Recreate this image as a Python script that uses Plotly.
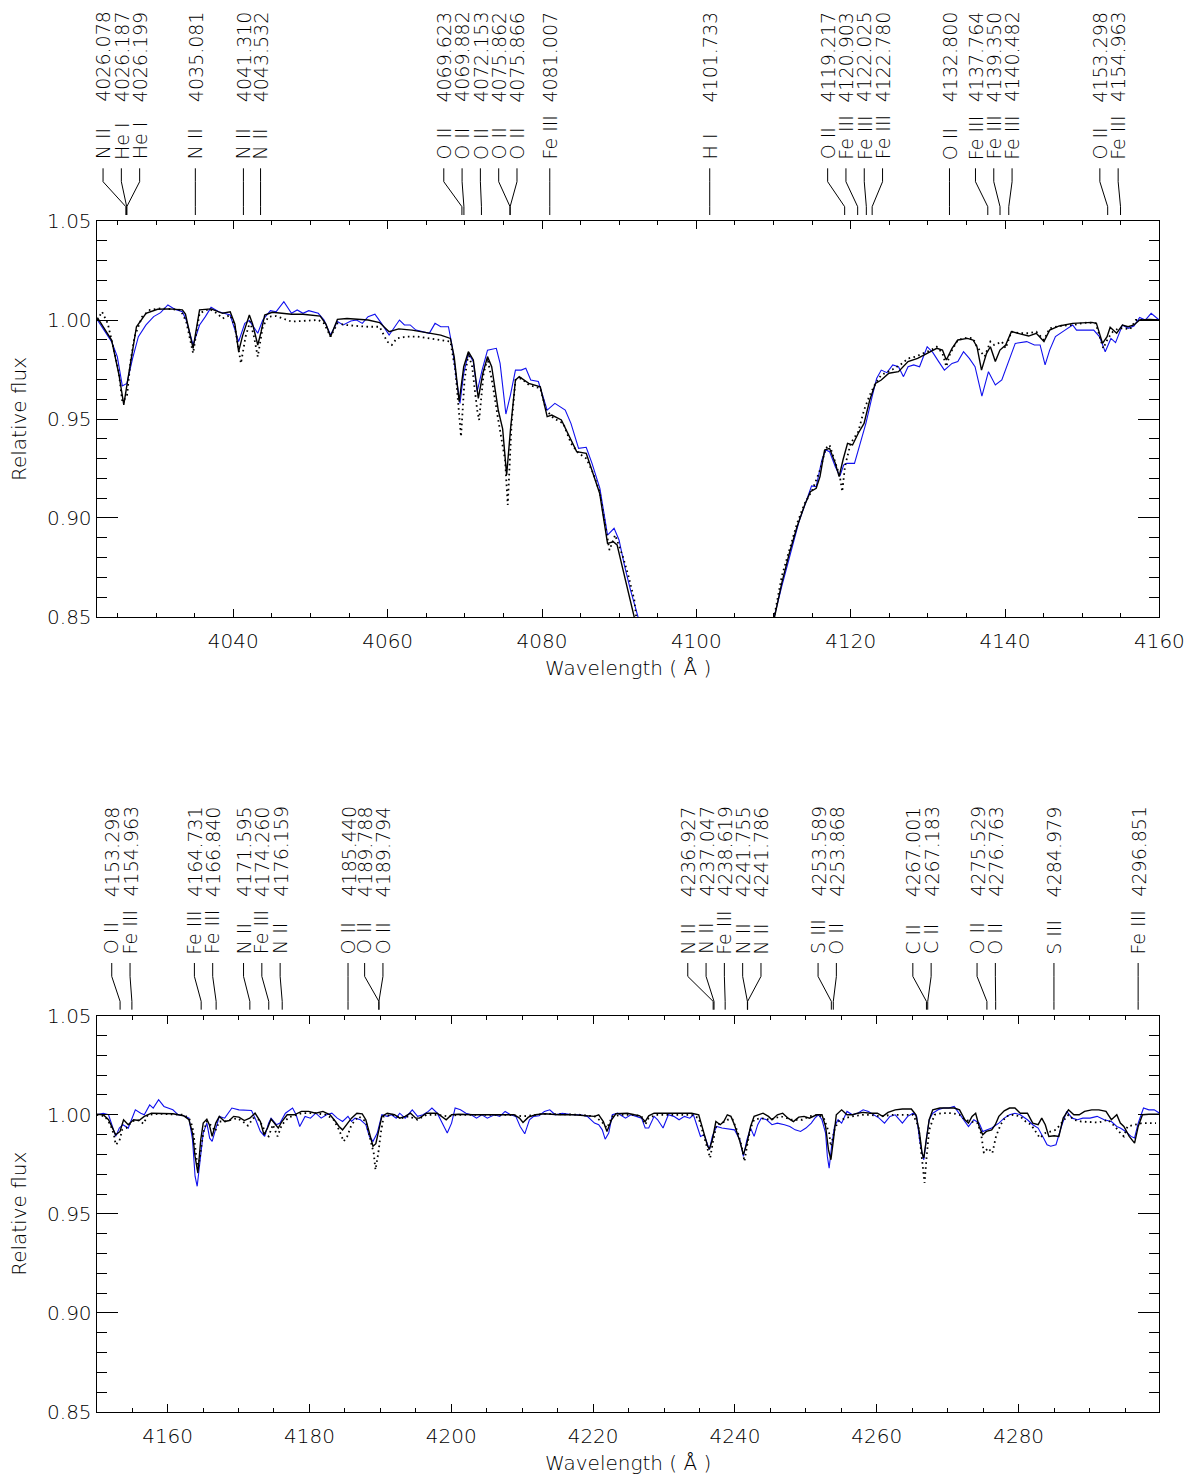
import plotly.graph_objects as go

# ---------------------------------------------------------------------------
# Panel 1 (4022-4160 A): observed spectrum and two model spectra
# ---------------------------------------------------------------------------
p1_obs_wave = [4022.39, 4023.23, 4024.23, 4024.97, 4025.62, 4026.21, 4026.95, 4027.70, 4028.69, 4029.68,
               4030.58, 4031.52, 4032.41, 4033.40, 4033.90, 4034.79, 4035.63, 4036.38, 4037.12, 4038.12,
               4038.86, 4039.60, 4040.69, 4041.49, 4042.08, 4043.17, 4043.82, 4044.81, 4045.56, 4046.55,
               4047.54, 4048.28, 4049.03, 4049.77, 4051.01, 4051.76, 4052.60, 4053.49, 4054.24, 4055.23,
               4055.97, 4056.72, 4057.46, 4058.35, 4059.20, 4060.19, 4060.93, 4061.53, 4062.17, 4062.92,
               4063.66, 4064.40, 4065.40, 4066.14, 4066.88, 4067.88, 4068.37, 4068.87, 4069.37, 4069.86,
               4070.46, 4071.10, 4071.60, 4072.24, 4072.94, 4074.08, 4074.57, 4075.32, 4075.91, 4076.56,
               4077.30, 4077.90, 4078.54, 4079.53, 4080.67, 4081.67, 4083.01, 4083.75, 4084.74, 4085.73,
               4086.48, 4087.50, 4088.49, 4089.34, 4089.98, 4090.72, 4091.47, 4092.46, 4094.50, 4101.70,
               4108.50, 4110.07, 4111.06, 4112.05, 4113.29, 4114.29, 4114.93, 4115.53, 4116.27, 4116.77,
               4117.26, 4118.01, 4118.60, 4119.10, 4119.49, 4120.49, 4121.23, 4121.97, 4122.72, 4123.36,
               4123.96, 4124.70, 4125.45, 4126.19, 4126.84, 4127.43, 4128.17, 4128.92, 4129.91, 4130.65,
               4131.40, 4132.14, 4133.13, 4133.88, 4134.62, 4135.37, 4136.11, 4137.00, 4137.85, 4138.74,
               4139.58, 4140.33, 4141.32, 4142.81, 4143.80, 4144.54, 4145.19, 4145.78, 4146.53, 4147.77,
               4148.76, 4149.26, 4150.25, 4151.49, 4152.23, 4152.98, 4153.72, 4154.32, 4155.21, 4155.95,
               4156.70, 4157.44, 4158.18, 4158.93, 4159.97]
p1_obs_flux = [1.0000, 0.9949, 0.9891, 0.9815, 0.9667, 0.9680, 0.9806, 0.9916, 0.9975, 1.0017,
               1.0037, 1.0076, 1.0054, 1.0042, 1.0000, 0.9874, 0.9975, 1.0017, 1.0064, 1.0042,
               1.0034, 1.0025, 0.9891, 0.9983, 0.9997, 0.9933, 1.0000, 1.0047, 1.0042, 1.0093,
               1.0034, 1.0051, 1.0034, 1.0047, 1.0034, 1.0000, 0.9924, 0.9992, 0.9975, 0.9995,
               1.0000, 0.9983, 1.0017, 1.0029, 0.9983, 0.9924, 0.9966, 1.0000, 0.9975, 0.9975,
               0.9949, 0.9941, 0.9933, 0.9983, 0.9966, 0.9966, 0.9865, 0.9714, 0.9579, 0.9731,
               0.9832, 0.9790, 0.9638, 0.9747, 0.9848, 0.9857, 0.9781, 0.9525, 0.9621, 0.9747,
               0.9747, 0.9756, 0.9697, 0.9689, 0.9545, 0.9579, 0.9545, 0.9478, 0.9352, 0.9357,
               0.9276, 0.9150, 0.8914, 0.8948, 0.8889, 0.8754, 0.8636, 0.8498, 0.8150, 0.7000,
               0.8200, 0.8498, 0.8653, 0.8805, 0.8981, 0.9091, 0.9162, 0.9158, 0.9293, 0.9343,
               0.9335, 0.9259, 0.9212, 0.9268, 0.9276, 0.9276, 0.9377, 0.9478, 0.9604, 0.9705,
               0.9747, 0.9734, 0.9773, 0.9764, 0.9714, 0.9764, 0.9773, 0.9764, 0.9865, 0.9835,
               0.9790, 0.9747, 0.9781, 0.9790, 0.9840, 0.9806, 0.9764, 0.9616, 0.9739, 0.9672,
               0.9697, 0.9781, 0.9882, 0.9891, 0.9874, 0.9874, 0.9773, 0.9848, 0.9916, 0.9949,
               0.9975, 0.9949, 0.9949, 0.9949, 0.9916, 0.9840, 0.9907, 0.9886, 0.9975, 0.9958,
               0.9970, 1.0013, 1.0000, 1.0034, 1.0000]

p1_mod1_wave = [4022.39, 4024.23, 4025.20, 4025.81, 4026.21, 4026.71, 4027.45, 4028.69, 4030.18, 4031.67,
                4033.40, 4033.80, 4034.79, 4035.63, 4037.12, 4038.61, 4039.60, 4040.20, 4040.69, 4041.20,
                4042.08, 4042.50, 4043.17, 4043.60, 4044.07, 4045.06, 4047.54, 4049.03, 4051.26, 4052.00,
                4052.60, 4053.49, 4054.73, 4057.46, 4058.95, 4060.19, 4061.43, 4063.16, 4064.90, 4066.88,
                4068.13, 4068.62, 4069.27, 4069.86, 4070.46, 4071.10, 4071.75, 4072.34, 4072.94, 4073.48,
                4074.33, 4074.90, 4075.42, 4075.91, 4076.56, 4077.05, 4078.29, 4079.78, 4080.67, 4081.27,
                4082.51, 4083.50, 4084.49, 4085.73, 4086.48, 4087.47, 4088.49, 4089.24, 4089.73, 4090.48,
                4091.22, 4091.96, 4094.00, 4101.70, 4108.50, 4110.07, 4111.06, 4112.05, 4113.05, 4114.04,
                4114.78, 4115.53, 4116.02, 4116.62, 4117.26, 4118.01, 4118.50, 4119.00, 4119.59, 4120.24,
                4120.98, 4121.73, 4122.47, 4123.21, 4123.96, 4124.95, 4126.19, 4127.43, 4128.67, 4129.91,
                4131.15, 4131.89, 4132.39, 4133.13, 4133.88, 4135.12, 4135.86, 4136.36, 4136.95, 4137.60,
                4138.10, 4138.74, 4139.34, 4140.08, 4140.82, 4142.06, 4143.06, 4144.05, 4145.04, 4145.78,
                4147.02, 4148.76, 4151.24, 4151.84, 4152.63, 4153.22, 4153.62, 4154.46, 4155.21, 4155.95,
                4156.70, 4157.44, 4158.68, 4159.97]
p1_mod1_flux = [1.0012, 0.9899, 0.9720, 0.9571, 0.9670, 0.9781, 0.9966, 1.0034, 1.0054, 1.0056,
                1.0051, 1.0030, 0.9857, 1.0051, 1.0056, 1.0034, 1.0042, 0.9980, 0.9840, 0.9920,
                1.0025, 0.9980, 0.9874, 0.9940, 1.0025, 1.0039, 1.0029, 1.0029, 1.0020, 0.9980,
                0.9916, 1.0003, 1.0008, 1.0000, 0.9987, 0.9941, 0.9955, 0.9949, 0.9936, 0.9924,
                0.9907, 0.9815, 0.9588, 0.9764, 0.9840, 0.9798, 0.9604, 0.9731, 0.9815, 0.9764,
                0.9545, 0.9450, 0.9217, 0.9444, 0.9697, 0.9714, 0.9680, 0.9663, 0.9512, 0.9520,
                0.9495, 0.9411, 0.9335, 0.9327, 0.9242, 0.9125, 0.8872, 0.8880, 0.8864, 0.8737,
                0.8620, 0.8498, 0.8100, 0.7000, 0.8200, 0.8498, 0.8670, 0.8822, 0.8956, 0.9066,
                0.9133, 0.9150, 0.9209, 0.9343, 0.9352, 0.9276, 0.9209, 0.9293, 0.9377, 0.9369,
                0.9428, 0.9478, 0.9596, 0.9680, 0.9697, 0.9731, 0.9739, 0.9790, 0.9806, 0.9832,
                0.9857, 0.9848, 0.9798, 0.9857, 0.9899, 0.9907, 0.9899, 0.9865, 0.9747, 0.9832,
                0.9865, 0.9790, 0.9848, 0.9874, 0.9941, 0.9929, 0.9919, 0.9933, 0.9891, 0.9949,
                0.9970, 0.9983, 0.9988, 0.9983, 0.9882, 0.9916, 0.9963, 0.9933, 0.9975, 0.9966,
                0.9975, 1.0000, 1.0003, 1.0000]

p1_mod2_wave = [4022.39, 4022.99, 4023.73, 4024.47, 4025.12, 4025.62, 4026.21, 4026.71, 4027.20, 4028.19,
                4029.19, 4030.67, 4032.16, 4033.15, 4033.90, 4034.79, 4035.63, 4036.87, 4037.87, 4038.61,
                4039.60, 4040.20, 4040.99, 4041.59, 4042.18, 4042.68, 4043.17, 4043.82, 4044.56, 4045.56,
                4047.54, 4049.52, 4051.01, 4051.76, 4052.60, 4053.49, 4054.48, 4055.97, 4057.46, 4058.95,
                4059.94, 4060.54, 4061.18, 4062.42, 4063.91, 4065.40, 4066.88, 4068.13, 4068.77, 4069.37,
                4069.51, 4069.96, 4070.46, 4070.95, 4071.60, 4071.85, 4072.44, 4072.94, 4073.58, 4074.33,
                4075.22, 4075.56, 4076.06, 4076.56, 4077.30, 4078.29, 4079.78, 4080.53, 4081.52, 4082.76,
                4083.75, 4084.74, 4085.73, 4086.63, 4087.47, 4088.74, 4089.48, 4090.48, 4091.22, 4091.96,
                4092.21, 4094.30, 4101.70, 4108.30, 4110.07, 4111.06, 4112.05, 4113.05, 4114.04, 4115.03,
                4116.02, 4116.77, 4117.26, 4118.01, 4118.60, 4118.90, 4119.25, 4119.99, 4120.98, 4121.73,
                4122.47, 4123.21, 4123.96, 4125.45, 4126.69, 4127.43, 4128.42, 4129.41, 4130.41, 4131.15,
                4131.89, 4132.39, 4132.89, 4133.88, 4135.12, 4135.86, 4136.36, 4136.86, 4137.35, 4138.10,
                4138.59, 4139.09, 4139.58, 4140.08, 4140.82, 4142.06, 4143.06, 4144.05, 4145.04, 4145.78,
                4147.02, 4148.76, 4150.74, 4151.74, 4152.73, 4153.32, 4153.97, 4154.71, 4155.46, 4156.20,
                4156.94, 4158.18, 4159.97]
p1_mod2_flux = [1.0000, 1.0042, 0.9983, 0.9865, 0.9747, 0.9588, 0.9613, 0.9798, 0.9916, 1.0017,
                1.0051, 1.0059, 1.0054, 1.0051, 0.9992, 0.9832, 1.0034, 1.0056, 1.0034, 1.0008,
                1.0025, 0.9966, 0.9781, 0.9916, 0.9992, 0.9916, 0.9815, 0.9966, 1.0017, 1.0020,
                0.9992, 0.9997, 1.0000, 0.9983, 0.9916, 0.9983, 0.9975, 0.9970, 0.9966, 0.9966,
                0.9891, 0.9874, 0.9907, 0.9916, 0.9916, 0.9907, 0.9899, 0.9891, 0.9747, 0.9461,
                0.9411, 0.9697, 0.9832, 0.9764, 0.9545, 0.9495, 0.9731, 0.9806, 0.9680, 0.9495,
                0.9293, 0.9066, 0.9478, 0.9697, 0.9705, 0.9672, 0.9655, 0.9545, 0.9503, 0.9478,
                0.9377, 0.9327, 0.9301, 0.9226, 0.9133, 0.8838, 0.8914, 0.8805, 0.8704, 0.8586,
                0.8498, 0.8100, 0.7000, 0.8200, 0.8498, 0.8704, 0.8838, 0.8973, 0.9074, 0.9141,
                0.9242, 0.9352, 0.9369, 0.9276, 0.9209, 0.9133, 0.9259, 0.9377, 0.9436, 0.9545,
                0.9621, 0.9680, 0.9722, 0.9751, 0.9781, 0.9806, 0.9815, 0.9832, 0.9848, 0.9865,
                0.9832, 0.9764, 0.9832, 0.9899, 0.9911, 0.9907, 0.9865, 0.9840, 0.9815, 0.9891,
                0.9874, 0.9882, 0.9891, 0.9857, 0.9941, 0.9933, 0.9933, 0.9941, 0.9899, 0.9958,
                0.9970, 0.9975, 0.9988, 0.9983, 0.9857, 0.9907, 0.9941, 0.9958, 0.9958, 0.9953,
                1.0000, 1.0000, 1.0000]

# ---------------------------------------------------------------------------
# Panel 2 (4150-4300 A)
# ---------------------------------------------------------------------------
p2_obs_wave = [4150.01, 4150.92, 4151.67, 4152.28, 4152.68, 4153.19, 4153.69, 4154.45, 4155.45, 4156.21,
               4156.71, 4157.47, 4157.97, 4158.73, 4159.48, 4160.74, 4161.49, 4162.25, 4163.01, 4163.51,
               4163.87, 4164.17, 4164.52, 4165.02, 4165.53, 4165.93, 4166.28, 4166.79, 4167.29, 4168.05,
               4169.06, 4170.06, 4171.07, 4171.83, 4172.43, 4173.08, 4173.69, 4174.24, 4174.59, 4175.35,
               4175.85, 4176.61, 4177.62, 4178.12, 4178.63, 4179.38, 4180.14, 4180.89, 4181.65, 4182.41,
               4183.16, 4183.92, 4184.67, 4185.43, 4185.93, 4186.43, 4187.19, 4187.95, 4188.45, 4188.96,
               4189.56, 4190.21, 4190.97, 4191.57, 4192.23, 4192.73, 4193.49, 4194.50, 4195.25, 4196.01,
               4196.76, 4197.27, 4198.02, 4198.78, 4199.43, 4200.04, 4200.54, 4201.30, 4202.06, 4202.81,
               4203.56, 4204.32, 4205.08, 4206.08, 4206.84, 4207.59, 4208.35, 4209.10, 4209.71, 4210.36,
               4211.02, 4211.62, 4212.38, 4213.13, 4213.89, 4214.65, 4215.65, 4217.16, 4218.17, 4219.18,
               4220.19, 4220.79, 4221.29, 4221.70, 4222.20, 4222.71, 4223.46, 4224.57, 4225.32, 4226.08,
               4226.83, 4227.34, 4227.84, 4228.60, 4229.10, 4229.86, 4230.61, 4231.37, 4232.12, 4232.88,
               4233.63, 4234.14, 4234.64, 4235.14, 4235.65, 4236.15, 4236.40, 4236.81, 4237.41, 4238.17,
               4238.92, 4239.93, 4240.69, 4241.19, 4241.69, 4242.20, 4242.70, 4243.21, 4243.71, 4244.47,
               4245.22, 4245.98, 4246.98, 4247.74, 4248.49, 4249.25, 4250.01, 4250.76, 4251.27, 4251.77,
               4252.27, 4252.78, 4253.03, 4253.28, 4253.63, 4254.04, 4254.54, 4255.04, 4255.80, 4256.56,
               4257.31, 4258.07, 4258.82, 4259.58, 4260.33, 4261.09, 4261.85, 4262.60, 4263.61, 4264.36,
               4265.12, 4265.62, 4266.03, 4266.38, 4266.63, 4266.98, 4267.39, 4267.89, 4268.65, 4269.40,
               4270.16, 4270.91, 4271.42, 4272.17, 4272.93, 4273.68, 4274.44, 4274.94, 4275.45, 4276.20,
               4277.21, 4277.97, 4278.72, 4279.48, 4280.23, 4281.24, 4281.99, 4282.75, 4283.51, 4284.01,
               4284.52, 4285.27, 4286.03, 4286.78, 4287.54, 4288.29, 4289.05, 4290.06, 4291.06, 4292.07,
               4293.08, 4293.84, 4294.34, 4295.10, 4295.85, 4296.35, 4296.86, 4297.61, 4298.37, 4299.12,
               4299.88]
p2_obs_flux = [1.0000, 1.0008, 1.0000, 0.9933, 0.9891, 0.9933, 0.9950, 0.9933, 1.0025, 1.0008,
               1.0000, 1.0050, 1.0034, 1.0076, 1.0042, 1.0025, 1.0000, 0.9995, 0.9983, 0.9874,
               0.9690, 0.9639, 0.9740, 0.9908, 0.9958, 0.9882, 0.9866, 0.9933, 0.9992, 0.9983,
               1.0034, 1.0025, 1.0025, 1.0022, 0.9975, 0.9916, 0.9891, 0.9958, 0.9983, 0.9950,
               0.9958, 1.0008, 1.0034, 1.0000, 0.9941, 0.9992, 0.9983, 1.0008, 0.9983, 1.0000,
               1.0008, 0.9983, 0.9966, 0.9992, 0.9966, 0.9983, 0.9975, 0.9950, 0.9891, 0.9866,
               0.9908, 1.0000, 0.9992, 1.0000, 0.9983, 1.0008, 0.9983, 1.0025, 0.9992, 1.0000,
               1.0017, 1.0034, 1.0008, 0.9958, 0.9908, 0.9958, 1.0034, 1.0025, 1.0008, 1.0000,
               0.9983, 1.0000, 0.9983, 1.0000, 0.9992, 1.0017, 1.0000, 0.9992, 0.9941, 0.9904,
               0.9975, 0.9992, 0.9995, 1.0017, 1.0025, 1.0000, 1.0008, 1.0000, 1.0000, 0.9992,
               0.9958, 0.9950, 0.9924, 0.9877, 0.9908, 1.0000, 1.0008, 0.9983, 1.0000, 0.9992,
               0.9983, 0.9933, 0.9933, 0.9992, 0.9975, 0.9933, 1.0000, 0.9992, 0.9975, 0.9992,
               0.9983, 1.0000, 0.9941, 0.9891, 0.9899, 0.9841, 0.9824, 0.9891, 0.9941, 0.9933,
               0.9928, 0.9924, 0.9874, 0.9790, 0.9874, 0.9933, 0.9891, 0.9950, 0.9983, 0.9975,
               0.9950, 0.9958, 0.9950, 0.9941, 0.9924, 0.9916, 0.9933, 0.9958, 0.9983, 1.0000,
               0.9975, 0.9908, 0.9790, 0.9731, 0.9841, 0.9941, 0.9975, 0.9958, 1.0017, 1.0000,
               1.0008, 1.0025, 1.0017, 1.0000, 0.9983, 0.9958, 0.9992, 1.0000, 0.9958, 0.9992,
               1.0008, 0.9992, 0.9874, 0.9807, 0.9773, 0.9874, 0.9975, 1.0008, 1.0025, 1.0034,
               1.0034, 1.0042, 1.0017, 0.9975, 0.9941, 0.9975, 0.9958, 0.9916, 0.9924, 0.9933,
               0.9958, 0.9983, 1.0000, 1.0008, 1.0000, 0.9975, 0.9950, 0.9933, 0.9883, 0.9849,
               0.9841, 0.9849, 0.9941, 1.0017, 0.9983, 0.9975, 0.9983, 0.9983, 0.9992, 0.9975,
               0.9966, 0.9941, 0.9933, 0.9916, 0.9891, 0.9883, 0.9958, 1.0034, 1.0025, 1.0025,
               1.0008]

p2_mod1_wave = [4150.01, 4150.92, 4151.67, 4152.68, 4153.29, 4153.79, 4154.45, 4155.20, 4155.96, 4156.71,
                4157.72, 4159.23, 4160.74, 4162.25, 4163.01, 4163.51, 4163.87, 4164.27, 4164.67, 4165.02,
                4165.53, 4165.88, 4166.28, 4166.79, 4167.29, 4168.05, 4168.70, 4169.31, 4170.06, 4170.82,
                4171.58, 4172.33, 4173.08, 4173.59, 4174.09, 4174.59, 4175.09, 4175.60, 4176.11, 4176.86,
                4177.87, 4178.88, 4179.88, 4180.89, 4181.90, 4182.91, 4183.67, 4184.17, 4184.67, 4185.18,
                4185.93, 4186.69, 4187.44, 4187.95, 4188.45, 4188.96, 4189.36, 4189.71, 4190.21, 4190.97,
                4191.98, 4192.73, 4193.49, 4194.24, 4195.00, 4195.51, 4196.51, 4198.02, 4199.28, 4200.04,
                4201.05, 4203.06, 4205.08, 4207.09, 4208.85, 4209.61, 4210.11, 4210.87, 4211.87, 4213.13,
                4215.15, 4217.16, 4219.18, 4220.19, 4220.79, 4221.44, 4221.95, 4222.60, 4223.21, 4224.82,
                4225.83, 4226.58, 4227.34, 4227.84, 4228.60, 4230.36, 4232.37, 4233.89, 4234.89, 4235.65,
                4236.15, 4236.40, 4236.81, 4237.31, 4237.92, 4238.42, 4238.92, 4239.43, 4239.93, 4240.69,
                4241.19, 4241.69, 4242.20, 4242.70, 4243.46, 4243.96, 4244.72, 4245.22, 4245.98, 4246.73,
                4247.49, 4248.24, 4249.00, 4249.75, 4250.51, 4251.52, 4252.27, 4252.78, 4253.18, 4253.53,
                4253.89, 4254.29, 4255.04, 4255.80, 4256.56, 4257.31, 4258.07, 4259.08, 4260.08, 4260.84,
                4261.59, 4262.60, 4263.61, 4264.87, 4265.52, 4266.03, 4266.38, 4266.63, 4266.98, 4267.39,
                4267.89, 4268.90, 4269.91, 4270.91, 4271.67, 4272.42, 4272.93, 4273.43, 4273.94, 4274.44,
                4274.94, 4275.45, 4276.20, 4276.71, 4277.21, 4277.97, 4278.72, 4279.48, 4280.23, 4281.24,
                4281.99, 4282.75, 4283.26, 4283.76, 4284.26, 4285.02, 4285.67, 4286.28, 4287.03, 4287.79,
                4288.54, 4289.30, 4290.31, 4291.32, 4292.32, 4293.08, 4293.84, 4294.34, 4294.84, 4295.60,
                4296.35, 4296.86, 4297.46, 4298.37, 4299.88]
p2_mod1_flux = [1.0003, 1.0000, 0.9975, 0.9899, 0.9916, 0.9975, 0.9950, 0.9975, 0.9971, 0.9992,
                1.0008, 1.0008, 1.0005, 0.9995, 0.9975, 0.9908, 0.9790, 0.9706, 0.9874, 0.9958,
                0.9978, 0.9950, 0.9891, 0.9958, 0.9992, 0.9966, 0.9971, 0.9992, 0.9988, 0.9971,
                0.9983, 1.0008, 0.9966, 0.9899, 0.9933, 0.9978, 0.9958, 0.9933, 0.9966, 1.0000,
                1.0000, 1.0017, 1.0017, 1.0008, 1.0017, 1.0000, 0.9966, 0.9941, 0.9924, 0.9950,
                0.9983, 1.0008, 1.0005, 0.9975, 0.9908, 0.9841, 0.9854, 0.9908, 0.9992, 1.0008,
                1.0000, 0.9983, 0.9992, 1.0008, 0.9983, 0.9983, 1.0008, 1.0008, 0.9975, 1.0000,
                1.0003, 1.0000, 1.0000, 1.0003, 1.0000, 0.9983, 0.9961, 0.9988, 1.0000, 1.0005,
                1.0000, 1.0000, 0.9995, 0.9992, 1.0000, 0.9966, 0.9916, 0.9975, 1.0005, 1.0008,
                1.0000, 0.9995, 0.9966, 0.9995, 1.0008, 1.0008, 1.0008, 1.0008, 1.0000, 0.9908,
                0.9841, 0.9827, 0.9874, 0.9966, 0.9950, 0.9966, 1.0000, 0.9992, 0.9950, 0.9866,
                0.9799, 0.9857, 0.9941, 0.9992, 1.0000, 1.0008, 0.9992, 0.9975, 1.0000, 1.0008,
                0.9983, 0.9966, 0.9988, 0.9992, 0.9983, 1.0000, 1.0000, 0.9941, 0.9824, 0.9773,
                0.9874, 1.0000, 1.0025, 1.0000, 1.0000, 1.0008, 1.0012, 1.0008, 1.0008, 0.9992,
                1.0012, 1.0025, 1.0029, 1.0029, 1.0000, 0.9908, 0.9807, 0.9782, 0.9874, 0.9975,
                1.0025, 1.0034, 1.0034, 1.0034, 1.0025, 0.9975, 0.9958, 0.9992, 1.0008, 0.9941,
                0.9899, 0.9916, 0.9924, 0.9950, 0.9992, 1.0020, 1.0034, 1.0034, 1.0008, 1.0008,
                0.9958, 0.9950, 0.9983, 0.9950, 0.9891, 0.9894, 0.9891, 0.9983, 1.0025, 1.0000,
                1.0000, 1.0017, 1.0025, 1.0025, 1.0017, 0.9975, 1.0000, 0.9958, 0.9941, 0.9891,
                0.9857, 0.9941, 1.0000, 1.0003, 1.0003]

p2_mod2_wave = [4150.01, 4151.17, 4151.93, 4152.43, 4152.68, 4153.19, 4153.59, 4154.19, 4154.95, 4155.70,
                4156.61, 4157.21, 4158.73, 4160.74, 4162.25, 4163.01, 4163.51, 4163.87, 4164.27, 4164.57,
                4165.02, 4165.53, 4166.28, 4166.69, 4167.29, 4168.05, 4168.81, 4169.82, 4170.92, 4171.32,
                4172.08, 4172.83, 4173.44, 4173.84, 4174.24, 4174.84, 4175.50, 4176.11, 4177.11, 4178.88,
                4180.89, 4182.41, 4183.41, 4184.17, 4184.82, 4185.33, 4185.93, 4186.94, 4187.95, 4188.55,
                4189.06, 4189.31, 4189.71, 4190.06, 4190.47, 4191.72, 4192.98, 4193.99, 4195.25, 4196.51,
                4198.02, 4199.53, 4201.05, 4203.06, 4208.10, 4210.11, 4213.13, 4218.17, 4220.19, 4221.19,
                4221.95, 4222.71, 4224.21, 4225.83, 4226.83, 4227.34, 4227.84, 4228.85, 4231.37, 4233.89,
                4234.89, 4235.65, 4236.15, 4236.50, 4236.91, 4237.41, 4238.17, 4238.92, 4239.68, 4240.43,
                4240.94, 4241.34, 4241.69, 4242.20, 4242.70, 4243.71, 4244.97, 4246.48, 4247.99, 4249.50,
                4250.51, 4251.77, 4252.53, 4253.03, 4253.28, 4253.53, 4254.04, 4254.54, 4255.55, 4256.56,
                4258.07, 4259.08, 4260.59, 4262.10, 4263.61, 4265.12, 4265.88, 4266.23, 4266.53, 4266.73,
                4267.03, 4267.39, 4268.14, 4269.15, 4270.66, 4271.67, 4272.42, 4273.18, 4274.19, 4274.69,
                4275.10, 4275.70, 4276.30, 4276.81, 4277.46, 4278.22, 4279.23, 4280.23, 4280.99, 4281.74,
                4282.50, 4283.00, 4283.76, 4284.52, 4285.27, 4286.03, 4287.03, 4287.79, 4288.80, 4290.31,
                4291.32, 4292.58, 4293.58, 4294.34, 4294.84, 4295.35, 4296.35, 4297.36, 4298.37, 4299.37]
p2_mod2_flux = [1.0000, 0.9992, 0.9950, 0.9899, 0.9849, 0.9866, 0.9924, 0.9933, 0.9966, 0.9975,
                0.9955, 1.0000, 1.0005, 1.0000, 1.0000, 0.9983, 0.9941, 0.9841, 0.9723, 0.9790,
                0.9908, 0.9966, 0.9941, 0.9916, 0.9966, 0.9966, 0.9975, 0.9983, 0.9958, 0.9945,
                0.9983, 0.9975, 0.9941, 0.9899, 0.9891, 0.9950, 0.9891, 0.9950, 0.9988, 1.0008,
                1.0008, 1.0000, 0.9975, 0.9924, 0.9866, 0.9891, 0.9950, 0.9992, 0.9966, 0.9874,
                0.9807, 0.9723, 0.9807, 0.9908, 0.9992, 1.0000, 0.9983, 0.9992, 0.9975, 1.0000,
                1.0000, 0.9992, 1.0000, 1.0000, 1.0000, 0.9992, 1.0005, 1.0000, 0.9992, 0.9966,
                0.9933, 0.9992, 1.0000, 1.0000, 0.9992, 0.9950, 0.9983, 1.0000, 1.0000, 1.0000,
                0.9983, 0.9891, 0.9824, 0.9782, 0.9866, 0.9950, 0.9958, 0.9975, 0.9975, 0.9908,
                0.9841, 0.9765, 0.9841, 0.9933, 0.9975, 0.9983, 0.9975, 0.9992, 0.9975, 0.9975,
                0.9992, 1.0000, 0.9983, 0.9933, 0.9908, 0.9841, 0.9924, 0.9966, 0.9983, 0.9992,
                1.0000, 1.0000, 0.9992, 1.0000, 1.0000, 1.0000, 0.9941, 0.9824, 0.9740, 0.9656,
                0.9790, 0.9924, 1.0000, 1.0008, 1.0008, 1.0000, 0.9975, 0.9966, 0.9958, 0.9908,
                0.9807, 0.9832, 0.9807, 0.9891, 0.9950, 0.9992, 1.0000, 0.9992, 0.9966, 0.9950,
                0.9908, 0.9883, 0.9908, 0.9916, 0.9924, 0.9958, 1.0000, 0.9975, 0.9966, 0.9963,
                0.9961, 0.9975, 0.9941, 0.9908, 0.9891, 0.9941, 0.9950, 0.9958, 0.9958, 0.9958]

# ---------------------------------------------------------------------------
# Line identifications
# ---------------------------------------------------------------------------
p1_line_ions = ["N II", "He I", "He I", "N II", "N II", "N II", "O II", "O II", "O II", "O II", "O II",
                "Fe III", "H I", "O II", "Fe III", "Fe III", "Fe III", "O II", "Fe III", "Fe III",
                "Fe III", "O II", "Fe III"]
p1_line_waves = [4026.078, 4026.187, 4026.199, 4035.081, 4041.310, 4043.532, 4069.623, 4069.882,
                 4072.153, 4075.862, 4075.866, 4081.007, 4101.733, 4119.217, 4120.903, 4122.025,
                 4122.780, 4132.800, 4137.764, 4139.350, 4140.482, 4153.298, 4154.963]

p2_line_ions = ["O II", "Fe III", "Fe III", "Fe III", "N II", "Fe III", "N II", "O II", "O II", "O II",
                "N II", "N II", "Fe III", "N II", "N II", "S III", "O II", "C II", "C II", "O II", "O II",
                "S III", "Fe III"]
p2_line_waves = [4153.298, 4154.963, 4164.731, 4166.840, 4171.595, 4174.260, 4176.159, 4185.440,
                 4189.788, 4189.794, 4236.927, 4237.047, 4238.619, 4241.755, 4241.786, 4253.589,
                 4253.868, 4267.001, 4267.183, 4275.529, 4276.763, 4284.979, 4296.851]

p1_xrange = [4022.3, 4160.0001]
p2_xrange = [4150.0, 4299.85]
y_range = [0.84999, 1.05001]

# ---------------------------------------------------------------------------
# Page geometry (pixels)
# ---------------------------------------------------------------------------
W, H = 1191, 1478
PX_LEFT, PX_RIGHT = 96.7, 1159.4
PANELS = [  # (top, bottom) of each plot box
    (221.0, 617.0),
    (1015.7, 1412.0),
]
FONT = "DejaVu Sans"
LABEL_SEP = 18.3      # spacing of crowded identification labels (px)
LABEL_MERGE = 16.8    # labels closer than this are spread apart (px)
LABEL_SHIFT = 5.1     # crowded groups sit slightly left of their centre (px)


def paper_y(py):
    return 1.0 - py / H


def spread_labels(waves, xr):
    """Spread identification labels so that neighbouring columns do not overlap."""
    scale = (PX_RIGHT - PX_LEFT) / (xr[1] - xr[0])
    order = sorted(range(len(waves)), key=lambda i: waves[i])
    pix = [(waves[i] - xr[0]) * scale for i in order]
    groups = [[k] for k in range(len(pix))]

    def place(g):
        c = sum(pix[k] for k in g) / len(g)
        return [c + (j - (len(g) - 1) / 2.0) * LABEL_SEP for j in range(len(g))]

    changed = True
    while changed:
        changed = False
        for gi in range(len(groups) - 1):
            a, b = place(groups[gi]), place(groups[gi + 1])
            if b[0] - a[-1] < LABEL_MERGE:
                groups[gi] = groups[gi] + groups[gi + 1]
                del groups[gi + 1]
                changed = True
                break

    out = [0.0] * len(waves)
    for g in groups:
        pos = place(g)
        shift = -LABEL_SHIFT if len(g) > 1 else 0.0
        for k, p in zip(g, pos):
            out[order[k]] = xr[0] + (p + shift) / scale
    return out


fig = go.Figure()

series = [
    (p1_obs_wave, p1_obs_flux, p2_obs_wave, p2_obs_flux, dict(color="#1010ee", width=1.1)),
    (p1_mod2_wave, p1_mod2_flux, p2_mod2_wave, p2_mod2_flux, dict(color="black", width=1.8, dash="1.6px,3.4px")),
    (p1_mod1_wave, p1_mod1_flux, p2_mod1_wave, p2_mod1_flux, dict(color="black", width=1.4)),
]
for w1, f1, w2, f2, style in series:
    fig.add_trace(go.Scatter(x=w1, y=f1, mode="lines", line=style, xaxis="x", yaxis="y",
                             hoverinfo="skip", showlegend=False))
    fig.add_trace(go.Scatter(x=w2, y=f2, mode="lines", line=style, xaxis="x2", yaxis="y2",
                             hoverinfo="skip", showlegend=False))

axis_font = dict(family=FONT, size=20, color="black", weight=200)
common_x = dict(showline=True, linecolor="black", linewidth=1.2, mirror="ticks", ticks="inside",
                ticklen=8, tickwidth=1, tickcolor="black", dtick=20, tick0=4000, automargin=False,
                showgrid=False, zeroline=False, tickfont=axis_font, ticklabelstandoff=6,
                minor=dict(dtick=5, tick0=4000, ticks="inside", ticklen=4, tickwidth=1,
                           tickcolor="black", showgrid=False))
common_y = dict(showline=True, linecolor="black", linewidth=1.2, mirror="ticks", ticks="inside",
                ticklen=21, tickwidth=1, tickcolor="black", dtick=0.05, tick0=0.85, tickformat=".2f",
                showgrid=False, zeroline=False, tickfont=axis_font, range=y_range, automargin=False,
                minor=dict(dtick=0.01, tick0=0.85, ticks="inside", ticklen=10.5, tickwidth=1,
                           tickcolor="black", showgrid=False))

x_dom = [PX_LEFT / W, PX_RIGHT / W]
(t1, b1), (t2, b2) = PANELS
fig.update_layout(
    width=W, height=H, margin=dict(l=0, r=0, t=0, b=0, pad=0), autosize=False,
    paper_bgcolor="white", plot_bgcolor="white", showlegend=False,
    font=dict(family=FONT, color="black", weight=200),
    xaxis=dict(common_x, domain=x_dom, range=p1_xrange, anchor="y"),
    yaxis=dict(common_y, domain=[paper_y(b1), paper_y(t1)], anchor="x"),
    xaxis2=dict(common_x, domain=x_dom, range=p2_xrange, anchor="y2"),
    yaxis2=dict(common_y, domain=[paper_y(b2), paper_y(t2)], anchor="x2"),
)

shapes, annotations = [], []
id_font = dict(family=FONT, size=19, color="black", weight=200)
for (top, bottom), ions, waves, xr, xref in [
    (PANELS[0], p1_line_ions, p1_line_waves, p1_xrange, "x"),
    (PANELS[1], p2_line_ions, p2_line_waves, p2_xrange, "x2"),
]:
    label_x = spread_labels(waves, xr)
    for ion, wl, lx in zip(ions, waves, label_x):
        y_a, y_b, y_c, y_d = (paper_y(top - d) for d in (52.7, 39.3, 14.3, 6.0))
        shapes.append(dict(type="path", xref=xref, yref="paper",
                           path=f"M {lx},{y_a} L {lx},{y_b} L {wl},{y_c} L {wl},{y_d}",
                           line=dict(color="black", width=1)))
        annotations.append(dict(x=lx, y=paper_y(top - 60.3), xref=xref, yref="paper", text=ion,
                                textangle=-90, xanchor="center", yanchor="bottom", showarrow=False,
                                borderpad=0, font=id_font))
        annotations.append(dict(x=lx, y=paper_y(top - 117.7), xref=xref, yref="paper",
                                text=f"{wl:.3f}", textangle=-90, xanchor="center",
                                yanchor="bottom", showarrow=False, borderpad=0, font=id_font))

    # axis titles
    annotations.append(dict(x=19 / W, y=paper_y((top + bottom) / 2), xref="paper", yref="paper",
                            text="Relative flux", textangle=-90, showarrow=False,
                            xanchor="center", yanchor="middle", font=axis_font))
    annotations.append(dict(x=(PX_LEFT + PX_RIGHT) / 2 / W, y=paper_y(bottom + 50.5), xref="paper",
                            yref="paper", text="Wavelength ( Å )", showarrow=False,
                            xanchor="center", yanchor="middle", font=axis_font))

fig.update_layout(shapes=shapes, annotations=annotations)
fig.write_html("out.html")
